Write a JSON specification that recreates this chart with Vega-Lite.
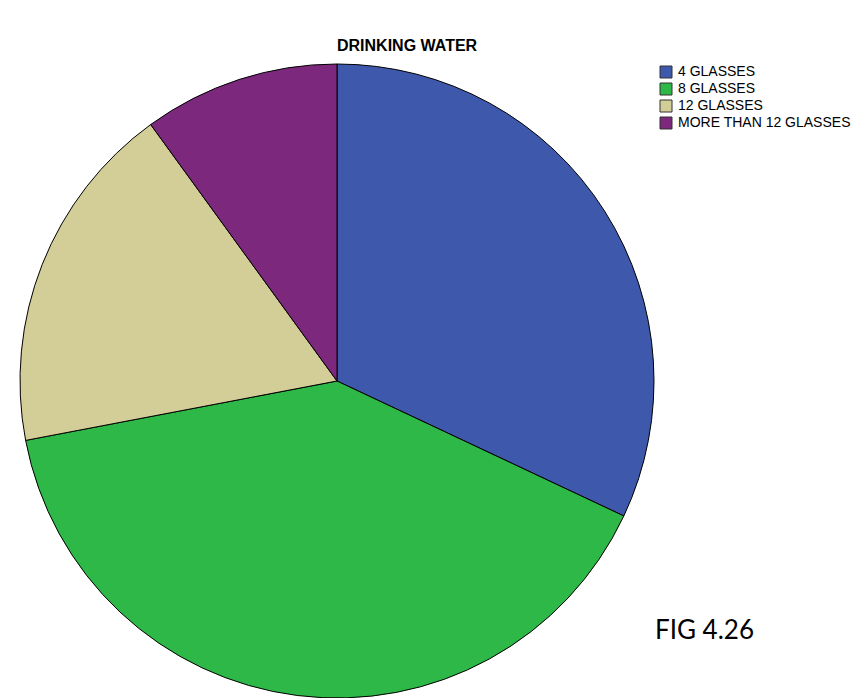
{
  "$schema": "https://vega.github.io/schema/vega-lite/v6.json",
  "autosize": {"type": "pad"},
  "padding": {"left": 18, "top": 38, "right": 0, "bottom": 0},
  "background": "white",
  "title": {
    "text": "DRINKING WATER",
    "anchor": "start",
    "frame": "bounds",
    "dx": 319,
    "offset": 8,
    "font": "Liberation Sans",
    "fontSize": 16,
    "fontWeight": "bold",
    "color": "black"
  },
  "config": {"view": {"stroke": null}},
  "vconcat": [
    {
      "width": 638,
      "height": 636,
      "title": {
        "text": "FIG 4.26",
        "orient": "bottom",
        "anchor": "end",
        "frame": "group",
        "dx": 98,
        "offset": -82,
        "font": "Lato",
        "fontSize": 26,
        "fontWeight": "normal",
        "color": "black"
      },
      "data": {
        "values": [
          {"glasses": "4 GLASSES", "percent": 32, "idx": 1},
          {"glasses": "8 GLASSES", "percent": 40, "idx": 2},
          {"glasses": "12 GLASSES", "percent": 18, "idx": 3},
          {"glasses": "MORE THAN 12 GLASSES", "percent": 10, "idx": 4}
        ]
      },
      "mark": {"type": "arc", "outerRadius": 317, "stroke": "black", "strokeWidth": 1},
      "encoding": {
        "theta": {"field": "percent", "type": "quantitative"},
        "order": {"field": "idx", "type": "quantitative"},
        "color": {
          "field": "glasses",
          "type": "nominal",
          "scale": {
            "domain": ["4 GLASSES", "8 GLASSES", "12 GLASSES", "MORE THAN 12 GLASSES"],
            "range": ["#3E58AC", "#2EB848", "#D3CE97", "#7C287D"]
          },
          "legend": {
            "orient": "none",
            "legendX": 641,
            "legendY": 2,
            "title": null,
            "symbolType": "square",
            "symbolSize": 144,
            "symbolStrokeColor": "#333333",
            "symbolStrokeWidth": 1,
            "symbolOpacity": 1,
            "labelFont": "Liberation Sans",
            "labelFontSize": 14,
            "labelColor": "black",
            "labelOffset": 5,
            "labelLimit": 0,
            "rowPadding": 1
          }
        }
      }
    }
  ]
}
